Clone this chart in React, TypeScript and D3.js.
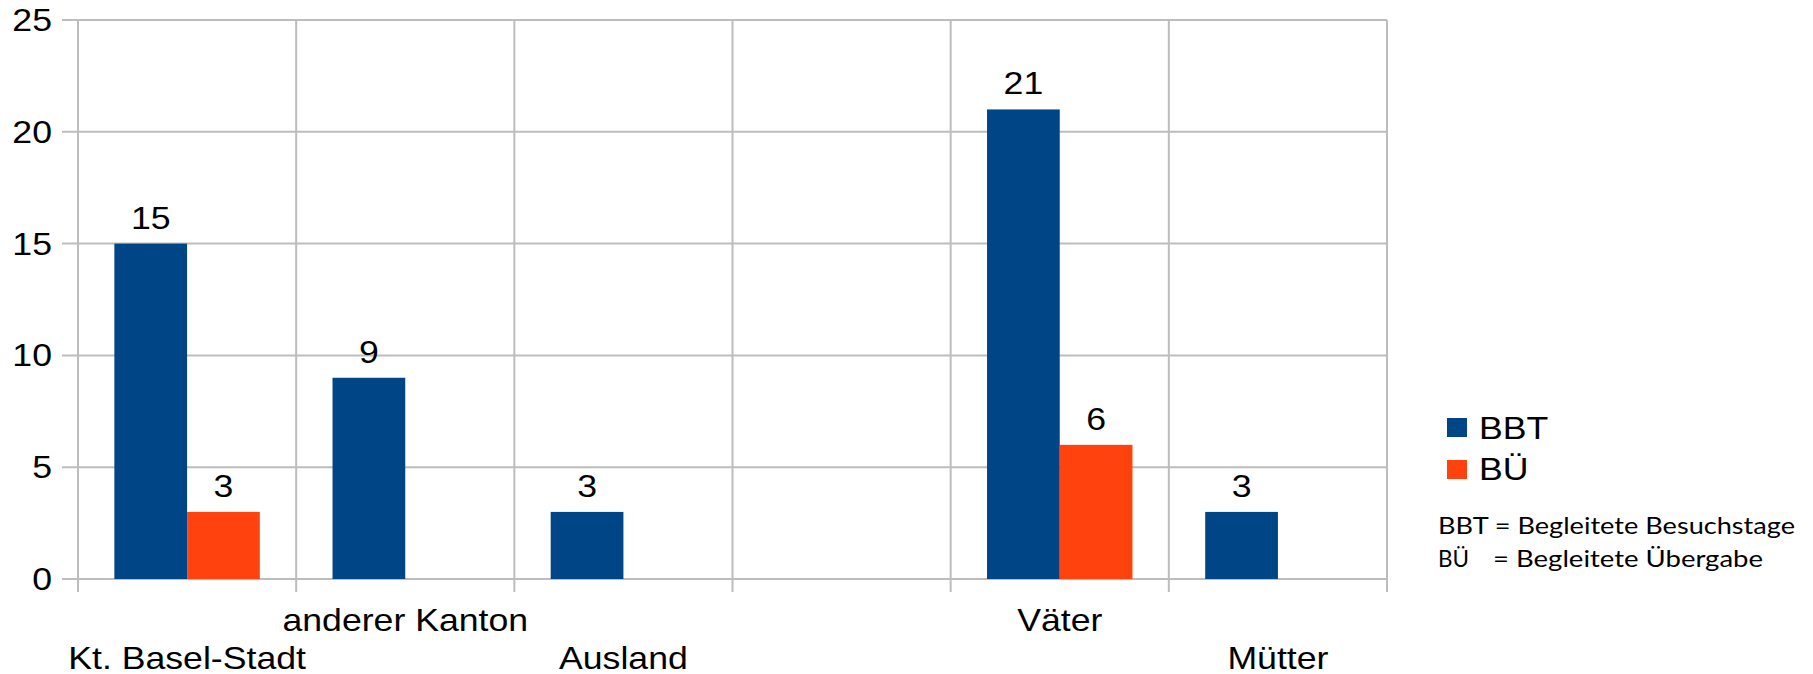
import React from "react";
import * as d3 from "d3";

// Categories (the fourth slot is an intentional empty gap between the two groups)
const categories: string[] = ["Kt. Basel-Stadt", "anderer Kanton", "Ausland", "", "Väter", "Mütter"];
const seriesNames: string[] = ["BBT", "BÜ"];
const bbtValues: (number | null)[] = [15, 9, 3, null, 21, 3];
const buValues: (number | null)[] = [3, null, null, null, 6, null];
const yTicks: number[] = [0, 5, 10, 15, 20, 25];
const notes: string[] = ["BBT = Begleitete Besuchstage", "BÜ", "= Begleitete Übergabe"];

const W = 1813;
const H = 674;
const colors = ["#004586", "#ff420e"];
const gridColor = "#bdbdbd";
const font = "'Liberation Sans', Arial, sans-serif";
const stretch = 1.15;

export default function App() {
  const left = 78;
  const right = 1387;
  const top = 20;
  const bottom = 579;

  const x = d3
    .scaleBand<number>()
    .domain(categories.map((_, i) => i))
    .range([left, right])
    .padding(0);
  const bw = x.bandwidth();
  const xs = d3
    .scaleBand<string>()
    .domain(seriesNames)
    .range([bw / 6, (bw * 5) / 6])
    .padding(0);
  const y = d3.scaleLinear().domain([0, 25]).range([bottom, top]);

  const series = [bbtValues, buValues];

  // staggered category labels: alternate rows among non-empty labels
  let k = 0;
  const labelRows = categories.map((c) => {
    if (!c) return -1;
    const r = k % 2 === 0 ? 1 : 0;
    k++;
    return r;
  });

  const boundaries = d3.range(categories.length + 1).map((i) => left + i * bw);

  const T = (props: {
    x: number;
    y: number;
    anchor?: string;
    size?: number;
    children: React.ReactNode;
  }) => (
    <text
      transform={`translate(${props.x},${props.y}) scale(${stretch},1)`}
      textAnchor={props.anchor || "middle"}
      fontFamily={font}
      fontSize={props.size || 31}
      fill="#000"
    >
      {props.children}
    </text>
  );

  return (
    <svg
      width={W}
      height={H}
      style={{ position: "absolute", left: 0, top: 0, background: "#fff" }}
    >
      <rect x={0} y={0} width={W} height={H} fill="#fff" />
      {/* horizontal gridlines with left tick stubs */}
      {yTicks.map((t) => (
        <line key={"h" + t} x1={62} x2={right} y1={y(t)} y2={y(t)} stroke={gridColor} strokeWidth={2} />
      ))}
      {/* vertical gridlines at category boundaries, extended below as ticks */}
      {boundaries.map((bx, i) => (
        <line key={"v" + i} x1={bx} x2={bx} y1={y(25)} y2={bottom + 13} stroke={gridColor} strokeWidth={2} />
      ))}
      {/* y tick labels */}
      {yTicks.map((t) => (
        <T key={"yl" + t} x={52} y={y(t) + 11} anchor="end">
          {t}
        </T>
      ))}
      {/* bars */}
      {series.map((vals, s) =>
        vals.map((v, i) =>
          v == null ? null : (
            <rect
              key={`b${s}-${i}`}
              x={(x(i) as number) + (xs(seriesNames[s]) as number)}
              y={y(v)}
              width={xs.bandwidth()}
              height={y(0) - y(v)}
              fill={colors[s]}
            />
          )
        )
      )}
      {/* value labels */}
      {series.map((vals, s) =>
        vals.map((v, i) =>
          v == null ? null : (
            <T
              key={`l${s}-${i}`}
              x={(x(i) as number) + (xs(seriesNames[s]) as number) + xs.bandwidth() / 2}
              y={y(v) - 15}
            >
              {v}
            </T>
          )
        )
      )}
      {/* category labels */}
      {categories.map((c, i) =>
        c ? (
          <T key={"c" + i} x={(x(i) as number) + bw / 2} y={labelRows[i] === 1 ? 669 : 631}>
            {c}
          </T>
        ) : null
      )}
      {/* legend */}
      {seriesNames.map((n, s) => (
        <g key={"lg" + n}>
          <rect x={1447} y={418 + s * 42} width={20} height={19} fill={colors[s]} />
          <T x={1479} y={439 + s * 41} anchor="start">
            {n}
          </T>
        </g>
      ))}
      {/* abbreviation notes */}
      <text
        x={1438}
        y={534}
        fontFamily="Lato, 'Open Sans', sans-serif"
        fontSize={24}
        textLength={357}
        lengthAdjust="spacingAndGlyphs"
        fill="#000"
      >
        {notes[0]}
      </text>
      <text x={1438} y={567} fontFamily="Lato, 'Open Sans', sans-serif" fontSize={24} textLength={31} lengthAdjust="spacingAndGlyphs" fill="#000">
        {notes[1]}
      </text>
      <text
        x={1493}
        y={567}
        fontFamily="Lato, 'Open Sans', sans-serif"
        fontSize={24}
        textLength={270}
        lengthAdjust="spacingAndGlyphs"
        fill="#000"
      >
        {notes[2]}
      </text>
    </svg>
  );
}
